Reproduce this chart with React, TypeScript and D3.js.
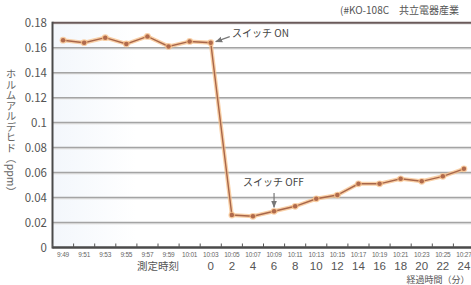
import React from 'react';
import * as d3 from 'd3';

// measured clock times (x categories)
const times = [
  '9:49', '9:51', '9:53', '9:55', '9:57', '9:59', '10:01', '10:03', '10:05', '10:07',
  '10:09', '10:11', '10:13', '10:15', '10:17', '10:19', '10:21', '10:23', '10:25', '10:27',
];
// formaldehyde concentration (ppm)
const values = [
  0.166, 0.164, 0.168, 0.163, 0.169, 0.161, 0.165, 0.164, 0.026, 0.025,
  0.029, 0.033, 0.039, 0.042, 0.051, 0.051, 0.055, 0.053, 0.057, 0.063,
];
// elapsed minutes, starting at 10:03
const elapsedStart = '10:03';
const elapsed = [0, 2, 4, 6, 8, 10, 12, 14, 16, 18, 20, 22, 24];
const yTicks = [0, 0.02, 0.04, 0.06, 0.08, 0.1, 0.12, 0.14, 0.16, 0.18];
const yTickLabels = ['0', '0.02', '0.04', '0.06', '0.08', '0.1', '0.12', '0.14', '0.16', '0.18'];

const W = 471;
const H = 285;
const left = 52.5;
const top = 22.7;
const bottom = 247.5;
const FONT = '"Noto Sans CJK JP", "Noto Sans", sans-serif';
const NUM_FONT = '"Liberation Sans", Arial, sans-serif';

export default function App() {
  const x = d3.scaleBand<string>().domain(times).range([left, left + 20 * 21.1]).padding(0);
  const y = d3.scaleLinear().domain([0, 0.18]).range([bottom, top]);
  const cx = (t: string) => (x(t) as number) + x.bandwidth() / 2;

  const line = d3
    .line<number>()
    .x((_, i) => cx(times[i]))
    .y((d) => y(d));
  const path = line(values) || '';

  const startIdx = times.indexOf(elapsedStart);
  const onIdx = times.indexOf('10:03');
  const offIdx = times.indexOf('10:09');

  return (
    <svg
      width={W}
      height={H}
      style={{ position: 'absolute', left: 0, top: 0, background: '#fff' }}
      fontFamily={FONT}
    >
      <defs>
        <linearGradient id="bg" x1="0" x2="1" y1="0" y2="0">
          <stop offset="0" stopColor="#f3f7fc" />
          <stop offset="0.2" stopColor="#ffffff" />
          <stop offset="1" stopColor="#ffffff" />
        </linearGradient>
        <marker id="arr" viewBox="0 0 10 10" refX="9" refY="5" markerWidth="6" markerHeight="6" orient="auto">
          <path d="M0,1 L10,5 L0,9 Z" fill="#777" />
        </marker>
      </defs>

      <rect x={left} y={top} width={W - left} height={bottom - top} fill="url(#bg)" />

      {/* grid */}
      {yTicks.slice(1).map((t) => (
        <g key={t}>
          <line x1={left} x2={W} y1={y(t) + 1.2} y2={y(t) + 1.2} stroke="#e6e6e6" strokeWidth={1.5} />
          <line x1={left} x2={W} y1={y(t)} y2={y(t)} stroke={t === 0.18 ? '#6a5a5a' : '#a4a4a4'} strokeWidth={t === 0.18 ? 2 : 1.5} />
        </g>
      ))}

      {/* y tick labels */}
      {yTicks.map((t, i) => (
        <text key={t} x={47} y={y(t)} dy="0.35em" textAnchor="end" fontSize={11.5} fill="#555">
          {yTickLabels[i]}
        </text>
      ))}

      {/* axes */}
      <line x1={left} x2={left} y1={top - 1} y2={bottom + 1} stroke="#4a4a4a" strokeWidth={2} />
      <line x1={left} x2={W} y1={bottom} y2={bottom} stroke="#4a4a4a" strokeWidth={2.5} />
      {times.map((t) => (
        <line key={t} x1={x(t) as number} x2={x(t) as number} y1={bottom} y2={bottom - 4} stroke="#555" strokeWidth={1} />
      ))}

      {/* x category labels */}
      {times.map((t) => (
        <text key={t} x={cx(t)} y={257} textAnchor="middle" fontSize={6.5} fill="#666" letterSpacing={-0.2} fontFamily={NUM_FONT}>
          {t}
        </text>
      ))}
      <text x={158} y={270} textAnchor="middle" fontSize={10.5} fill="#555">測定時刻</text>
      {elapsed.map((m, i) => (
        <text key={m} x={cx(times[startIdx + i])} y={270} textAnchor="middle" fontSize={11.5} fill="#555" fontFamily={NUM_FONT}>
          {m}
        </text>
      ))}
      <text x={W - 1.5} y={282.6} textAnchor="end" fontSize={9} fill="#555">経過時間（分）</text>

      {/* y axis title */}
      <text
        x={11}
        y={133}
        textAnchor="middle"
        fontSize={10.5}
        fill="#666"
        style={{ writingMode: 'vertical-rl' }}
      >
        ホルムアルデヒド（ppm）
      </text>

      {/* source note */}
      <text x={340} y={14} fontSize={10} fill="#555">(#KO-108C　共立電器産業</text>

      {/* series */}
      <path d={path} fill="none" stroke="#f7c08a" strokeWidth={4} strokeOpacity={0.75} />
      <path d={path} fill="none" stroke="#a8664a" strokeWidth={1.4} />
      {values.map((v, i) => (
        <g key={i}>
          <circle cx={cx(times[i])} cy={y(v)} r={3.4} fill="#f7c08a" opacity={0.75} />
          <circle cx={cx(times[i])} cy={y(v)} r={2.2} fill="#b06a4c" />
        </g>
      ))}

      {/* annotations */}
      <line
        x1={cx(times[onIdx]) + 19}
        y1={y(values[onIdx]) - 6}
        x2={cx(times[onIdx]) + 5}
        y2={y(values[onIdx]) - 1}
        stroke="#777"
        strokeWidth={1.2}
        markerEnd="url(#arr)"
      />
      <text x={232} y={33} dy="0.35em" fontSize={10} fill="#444">スイッチ ON</text>
      <text x={243} y={182} dy="0.35em" fontSize={10} fill="#444">スイッチ OFF</text>
      <line
        x1={cx(times[offIdx])}
        y1={193}
        x2={cx(times[offIdx])}
        y2={y(values[offIdx]) - 4}
        stroke="#777"
        strokeWidth={1.2}
        markerEnd="url(#arr)"
      />
    </svg>
  );
}
